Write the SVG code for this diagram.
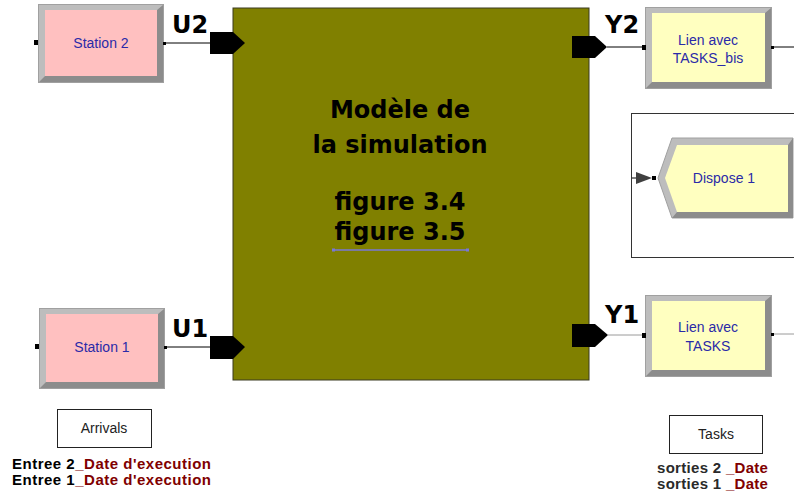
<svg xmlns="http://www.w3.org/2000/svg" width="794" height="500" viewBox="0 0 794 500">
<style>
.lt{fill:#BDBDBD;stroke:#A0A0A0;stroke-width:1}
.dk{fill:#8C8C8C}
.pink{fill:#FFC0C0}
.yel{fill:#FFFFC0}
.mod{font-family:"Liberation Sans",Arial,sans-serif;font-size:14px;fill:#2A2AA8;text-anchor:middle}
.lab{font-family:"DejaVu Sans",sans-serif;font-weight:bold;font-size:24px;fill:#000}
.big{font-family:"DejaVu Sans",sans-serif;font-weight:bold;font-size:24px;fill:#000;text-anchor:middle}
.port{fill:#000}
.cn{stroke:#000;stroke-width:1;fill:none}
.cg{stroke:#9A9A9A;stroke-width:1;fill:none}
.box{fill:#fff;stroke:#222;stroke-width:1}
.bt{font-family:"Liberation Sans",Arial,sans-serif;font-size:14px;fill:#222;text-anchor:middle}
.note{font-family:"Liberation Sans",Arial,sans-serif;font-weight:bold;font-size:15px;letter-spacing:0.5px}
.note2{font-family:"Liberation Sans",Arial,sans-serif;font-weight:bold;font-size:15px;letter-spacing:0.3px}
</style>
<rect width="794" height="500" fill="#fff"/>

<g id="connectors">
<line class="cn" x1="164" y1="43" x2="210" y2="43"/>
<line class="cn" x1="165" y1="347" x2="210" y2="347"/>
<line class="cn" x1="607" y1="47" x2="643" y2="47"/>
<line class="cn" x1="772" y1="47" x2="794" y2="47"/>
<line class="cg" x1="608" y1="335" x2="643" y2="335"/>
<line class="cg" x1="772" y1="334" x2="794" y2="334"/>
<line class="cn" x1="631" y1="178" x2="640" y2="178"/>
<polygon points="636,172 652,178 636,184" fill="#404040"/>
</g>

<g id="model">
<rect x="233" y="8" width="356" height="372" fill="#808000" stroke="#3A3A20" stroke-width="1"/>
<text class="big" x="400" y="118">Modèle de</text>
<text class="big" x="400" y="153">la simulation</text>
<text class="big" x="400" y="210">figure 3.4</text>
<text class="big" x="400" y="240">figure 3.5</text>
<line x1="334" y1="250" x2="467" y2="250" stroke="#7878D8" stroke-width="1.5"/>
<rect x="332" y="248.5" width="3" height="3" fill="#7878D8"/>
<rect x="466" y="248.5" width="3" height="3" fill="#7878D8"/>
</g>

<g id="port-u2">
<polygon class="port" points="210,32 233,32 245,43 233,54 210,54"/>
<text class="lab" x="172" y="33">U2</text>
</g>
<g id="port-u1">
<polygon class="port" points="210,336 233,336 245,347 233,359 210,359"/>
<text class="lab" x="172" y="337">U1</text>
</g>
<g id="port-y2">
<polygon class="port" points="572,36 595,36 607,47 595,58 572,58"/>
<text class="lab" x="605" y="33">Y2</text>
</g>
<g id="port-y1">
<polygon class="port" points="572,324 595,324 608,335 595,347 572,347"/>
<text class="lab" x="605" y="323">Y1</text>
</g>

<g id="station2">
<rect class="lt" x="38.5" y="4.5" width="125" height="78"/>
<polygon class="dk" points="163,5 163,82 39,82 45,76 157,76 157,10"/>
<rect class="pink" x="45" y="10" width="112" height="66"/>
<rect x="34" y="40" width="4" height="5" fill="#000"/>
<rect x="163" y="42" width="3" height="3" fill="#000"/>
<text class="mod" x="101" y="48">Station 2</text>
</g>

<g id="station1">
<rect class="lt" x="39.5" y="308.5" width="125" height="80"/>
<polygon class="dk" points="164,309 164,388 40,388 46,382 158,382 158,314"/>
<rect class="pink" x="46" y="314" width="112" height="68"/>
<rect x="35" y="344" width="4" height="5" fill="#000"/>
<rect x="164" y="346" width="3" height="3" fill="#000"/>
<text class="mod" x="102" y="352">Station 1</text>
</g>

<g id="lien-bis">
<rect class="lt" x="645.5" y="7.5" width="126" height="81"/>
<polygon class="dk" points="771,8 771,88 646,88 652,82 765,82 765,13"/>
<rect class="yel" x="652" y="13" width="113" height="69"/>
<rect x="642" y="45" width="4" height="5" fill="#000"/>
<rect x="771" y="46" width="3" height="3" fill="#000"/>
<text class="mod" x="708" y="45">Lien avec</text>
<text class="mod" x="708" y="63">TASKS_bis</text>
</g>

<g id="lien-tasks">
<rect class="lt" x="645.5" y="295.5" width="126" height="81"/>
<polygon class="dk" points="771,296 771,376 646,376 652,370 765,370 765,301"/>
<rect class="yel" x="652" y="301" width="113" height="69"/>
<rect x="642" y="333" width="4" height="5" fill="#000"/>
<rect x="771" y="333" width="3" height="3" fill="#000"/>
<text class="mod" x="708" y="332">Lien avec</text>
<text class="mod" x="708" y="351">TASKS</text>
</g>

<g id="dispose-frame">
<rect x="631.5" y="113.5" width="170" height="144" fill="none" stroke="#333" stroke-width="1"/>
</g>

<g id="dispose1">
<polygon points="658,178 672,138 793,138 793,218 672,218" fill="#BDBDBD" stroke="#A0A0A0" stroke-width="1"/>
<polygon class="dk" points="793,138 793,218 672,218 677,212 788,212 788,145"/>
<polygon class="yel" points="665,178 677,145 788,145 788,212 677,212"/>
<rect x="652" y="176" width="4" height="4" fill="#000"/>
<text class="mod" x="724" y="183">Dispose 1</text>
</g>

<g id="arrivals">
<rect class="box" x="57.5" y="409.5" width="94" height="38"/>
<text class="bt" x="104" y="433">Arrivals</text>
</g>

<g id="tasks">
<rect class="box" x="669.5" y="415.5" width="93" height="38"/>
<text class="bt" x="716" y="439">Tasks</text>
</g>

<g id="notes">
<text class="note" x="12" y="469"><tspan fill="#000">Entree 2</tspan><tspan fill="#800000">_Date d'execution</tspan></text>
<text class="note" x="12" y="485"><tspan fill="#000">Entree 1</tspan><tspan fill="#800000">_Date d'execution</tspan></text>
<text class="note2" x="657" y="473"><tspan fill="#2A2A2A">sorties 2 </tspan><tspan fill="#800000"> _Date</tspan></text>
<text class="note2" x="657" y="489"><tspan fill="#2A2A2A">sorties 1 </tspan><tspan fill="#800000"> _Date</tspan></text>
</g>
</svg>
